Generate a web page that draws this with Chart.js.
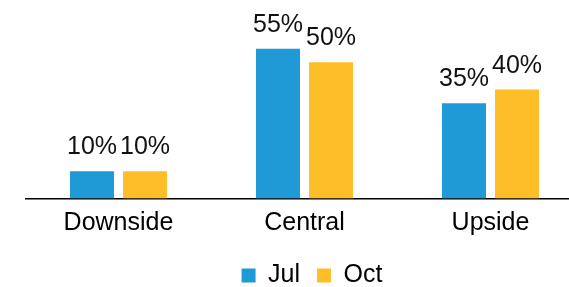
<!DOCTYPE html>
<html>
<head>
<meta charset="utf-8">
<script src="https://cdn.jsdelivr.net/npm/chart.js@4.4.1/dist/chart.umd.min.js"></script>
<style>
  html, body { margin: 0; padding: 0; overflow: hidden; background: #fff; }
  #wrap { width: 600px; height: 298px; }
</style>
</head>
<body>
<div id="wrap"><canvas id="canvas" width="600" height="298"></canvas></div>
<script>
'use strict';

// scenario categories and the two survey rounds (values in %)
var categories = ['Downside', 'Central', 'Upside'];
var julValues = [10, 55, 35];
var octValues = [10, 50, 40];
var seriesNames = ['Jul', 'Oct'];

var blue = '#1F9AD6';
var yellow = '#FEBE28';
var fontFamily = '"Liberation Sans", Arial, sans-serif';
var fontSize = 25;

// draws the "55%" style labels above each bar
var barLabels = {
    id: 'barLabels',
    afterDatasetsDraw: function (chart) {
        var ctx = chart.ctx;
        ctx.save();
        ctx.font = fontSize + 'px ' + fontFamily;
        ctx.fillStyle = '#111';
        ctx.textAlign = 'center';
        ctx.textBaseline = 'alphabetic';
        chart.data.datasets.forEach(function (ds, i) {
            chart.getDatasetMeta(i).data.forEach(function (bar, j) {
                ctx.fillText(ds.data[j] + '%', bar.x, bar.y - 17);
            });
        });
        ctx.restore();
    }
};

var ctx = document.getElementById('canvas').getContext('2d');
var myBar = new Chart(ctx, {
    type: 'bar',
    data: {
        labels: categories,
        datasets: [{
            label: seriesNames[0],
            data: julValues,
            backgroundColor: blue,
            categoryPercentage: 0.57,
            barPercentage: 0.83
        }, {
            label: seriesNames[1],
            data: octValues,
            backgroundColor: yellow,
            categoryPercentage: 0.57,
            barPercentage: 0.83
        }]
    },
    options: {
        responsive: false,
        animation: false,
        devicePixelRatio: 1,
        layout: {
            padding: { top: 35, left: 25.5, right: 1.5, bottom: 0 }
        },
        scales: {
            x: {
                grid: { display: false, drawTicks: false },
                border: { display: true, color: '#000', width: 1.5 },
                ticks: {
                    color: '#000',
                    padding: 10,
                    font: { family: fontFamily, size: fontSize }
                },
                afterFit: function (scale) { scale.height = 47.5; }
            },
            y: {
                position: 'right',
                min: 0,
                max: 60,
                grid: { display: false, drawTicks: false },
                border: { display: false },
                ticks: { display: false },
                afterFit: function (scale) { scale.width = 15; }
            }
        },
        plugins: {
            legend: {
                position: 'bottom',
                labels: {
                    boxWidth: 14,
                    boxHeight: 14,
                    padding: 17,
                    color: '#000',
                    font: { family: fontFamily, size: fontSize }
                }
            },
            tooltip: { enabled: false }
        }
    },
    plugins: [barLabels]
});
</script>
</body>
</html>
